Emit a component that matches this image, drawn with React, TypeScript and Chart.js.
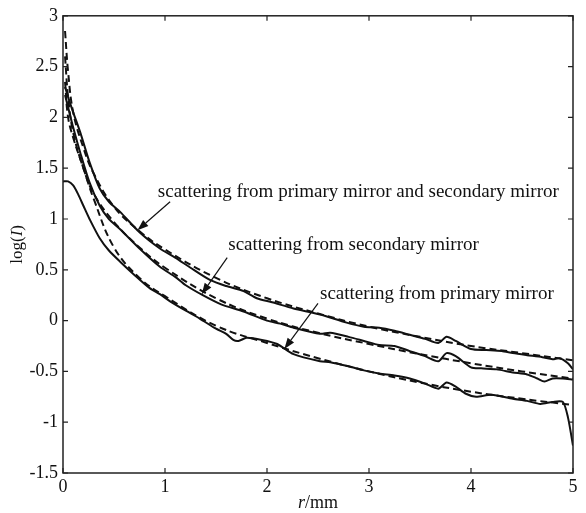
import React, { useEffect, useRef } from "react";
import { Chart, registerables } from "chart.js";

Chart.register(...registerables);

// Solid measured curves
const rSolidBoth = [0.02, 0.05, 0.1, 0.17, 0.26, 0.36, 0.45, 0.56, 0.75, 0.95, 1.1, 1.25, 1.44, 1.6, 1.77, 1.9, 2.05, 2.26, 2.52, 2.78, 2.95, 3.1, 3.25, 3.4, 3.55, 3.68, 3.76, 3.85, 4.0, 4.15, 4.3, 4.41, 4.55, 4.7, 4.8, 4.87, 4.95, 5.0];
const vSolidBoth = [2.3, 2.2, 2.05, 1.85, 1.56, 1.3, 1.17, 1.07, 0.87, 0.71, 0.62, 0.52, 0.4, 0.34, 0.29, 0.22, 0.18, 0.12, 0.06, -0.02, -0.06, -0.07, -0.1, -0.14, -0.18, -0.22, -0.16, -0.2, -0.28, -0.29, -0.3, -0.32, -0.34, -0.36, -0.38, -0.37, -0.42, -0.48];

const rSolidSec = [0.02, 0.05, 0.1, 0.17, 0.26, 0.36, 0.45, 0.56, 0.75, 0.95, 1.1, 1.2, 1.37, 1.55, 1.77, 2.0, 2.13, 2.26, 2.52, 2.62, 2.8, 2.95, 3.1, 3.25, 3.4, 3.55, 3.68, 3.76, 3.85, 4.0, 4.1, 4.25, 4.41, 4.55, 4.65, 4.72, 4.8, 4.9, 5.0];
const vSolidSec = [2.22, 2.1, 1.9, 1.65, 1.36, 1.13, 1.0, 0.9, 0.71, 0.53, 0.43, 0.35, 0.25, 0.16, 0.09, 0.0, -0.03, -0.07, -0.13, -0.12, -0.16, -0.2, -0.24, -0.25, -0.3, -0.35, -0.4, -0.32, -0.35, -0.46, -0.47, -0.48, -0.51, -0.53, -0.57, -0.6, -0.57, -0.57, -0.58];

const rSolidPri = [0.0, 0.05, 0.1, 0.15, 0.2, 0.26, 0.36, 0.45, 0.56, 0.7, 0.85, 0.95, 1.05, 1.2, 1.34, 1.5, 1.6, 1.67, 1.72, 1.8, 1.95, 2.1, 2.26, 2.52, 2.62, 2.8, 2.95, 3.1, 3.25, 3.4, 3.55, 3.68, 3.76, 3.85, 3.95, 4.05, 4.2, 4.41, 4.55, 4.68, 4.8, 4.9, 4.95, 5.0];
const vSolidPri = [1.37, 1.37, 1.33, 1.24, 1.13, 1.0, 0.81, 0.69, 0.58, 0.45, 0.32, 0.26, 0.19, 0.1, 0.02, -0.08, -0.13, -0.19, -0.2, -0.17, -0.19, -0.23, -0.33, -0.4, -0.41, -0.45, -0.49, -0.52, -0.54, -0.57, -0.62, -0.67, -0.61, -0.65, -0.72, -0.75, -0.73, -0.77, -0.79, -0.82, -0.8, -0.8, -0.95, -1.23];

// Dashed fitted curves
const rFit = [0.02, 0.05, 0.1, 0.2, 0.3, 0.5, 0.75, 1.0, 1.5, 2.0, 2.5, 3.0, 3.5, 4.0, 4.5, 5.0];
const vFitBoth = [2.85, 2.45, 2.05, 1.7, 1.45, 1.12, 0.88, 0.7, 0.42, 0.22, 0.07, -0.06, -0.16, -0.25, -0.32, -0.39];
const vFitSec = [2.6, 2.2, 1.85, 1.5, 1.25, 0.97, 0.72, 0.52, 0.22, 0.02, -0.12, -0.23, -0.33, -0.42, -0.5, -0.57];
const vFitPri = [2.35, 2.0, 1.8, 1.5, 1.2, 0.72, 0.42, 0.24, -0.05, -0.22, -0.37, -0.5, -0.61, -0.7, -0.77, -0.83];

const xTicks = [0, 1, 2, 3, 4, 5];
const yTicks = [-1.5, -1, -0.5, 0, 0.5, 1, 1.5, 2, 2.5, 3];

const annLabels = [
  "scattering from primary mirror and secondary mirror",
  "scattering from secondary mirror",
  "scattering from primary mirror",
];
// label anchor (left, middle) in data units
const annLabelR = [0.93, 1.62, 2.52];
const annLabelV = [1.27, 0.74, 0.26];
// arrows: start -> tip in data units
const arrowFromR = [1.05, 1.61, 2.5];
const arrowFromV = [1.17, 0.62, 0.17];
const arrowToR = [0.73, 1.36, 2.17];
const arrowToV = [0.89, 0.26, -0.28];

const FONT = "'Liberation Serif', 'Times New Roman', serif";

function pts(r: number[], v: number[]) {
  return r.map((x, i) => ({ x, y: v[i] }));
}

const framePlugin = {
  id: "frame",
  afterDraw(chart: any) {
    const { ctx, chartArea: a, scales } = chart;
    const xs = scales.x;
    const ys = scales.y;
    ctx.save();
    ctx.strokeStyle = "#222";
    ctx.lineWidth = 1.5;
    ctx.strokeRect(a.left, a.top, a.right - a.left, a.bottom - a.top);
    ctx.lineWidth = 1.2;
    const tl = 5;
    xTicks.forEach((t) => {
      const px = xs.getPixelForValue(t);
      ctx.beginPath();
      ctx.moveTo(px, a.bottom);
      ctx.lineTo(px, a.bottom - tl);
      ctx.moveTo(px, a.top);
      ctx.lineTo(px, a.top + tl);
      ctx.stroke();
    });
    yTicks.forEach((t) => {
      const py = ys.getPixelForValue(t);
      ctx.beginPath();
      ctx.moveTo(a.left, py);
      ctx.lineTo(a.left + tl, py);
      ctx.moveTo(a.right, py);
      ctx.lineTo(a.right - tl, py);
      ctx.stroke();
    });

    // annotations
    ctx.fillStyle = "#111";
    ctx.strokeStyle = "#111";
    ctx.font = `19px ${FONT}`;
    ctx.textBaseline = "middle";
    ctx.textAlign = "left";
    annLabels.forEach((s, i) => {
      ctx.fillText(s, xs.getPixelForValue(annLabelR[i]), ys.getPixelForValue(annLabelV[i]));
    });
    ctx.lineWidth = 1.2;
    arrowFromR.forEach((_, i) => {
      const x0 = xs.getPixelForValue(arrowFromR[i]);
      const y0 = ys.getPixelForValue(arrowFromV[i]);
      const x1 = xs.getPixelForValue(arrowToR[i]);
      const y1 = ys.getPixelForValue(arrowToV[i]);
      const ang = Math.atan2(y1 - y0, x1 - x0);
      const hl = 11, hw = 4;
      const bx = x1 - hl * Math.cos(ang);
      const by = y1 - hl * Math.sin(ang);
      ctx.beginPath();
      ctx.moveTo(x0, y0);
      ctx.lineTo(bx, by);
      ctx.stroke();
      ctx.beginPath();
      ctx.moveTo(x1, y1);
      ctx.lineTo(bx + hw * Math.sin(ang), by - hw * Math.cos(ang));
      ctx.lineTo(bx - hw * Math.sin(ang), by + hw * Math.cos(ang));
      ctx.closePath();
      ctx.fill();
    });

    // axis titles
    ctx.textBaseline = "middle";
    const xt1 = "r";
    const xt2 = "/mm";
    ctx.font = `italic 18px ${FONT}`;
    const w1 = ctx.measureText(xt1).width;
    ctx.font = `18px ${FONT}`;
    const w2 = ctx.measureText(xt2).width;
    const cx = (a.left + a.right) / 2;
    const sx = cx - (w1 + w2) / 2;
    ctx.textAlign = "left";
    ctx.font = `italic 18px ${FONT}`;
    ctx.fillText(xt1, sx, 503);
    ctx.font = `18px ${FONT}`;
    ctx.fillText(xt2, sx + w1, 503);

    ctx.translate(18, (a.top + a.bottom) / 2);
    ctx.rotate(-Math.PI / 2);
    const p1 = "log(", p2 = "I", p3 = ")";
    ctx.font = `17px ${FONT}`;
    const q1 = ctx.measureText(p1).width;
    const q3 = ctx.measureText(p3).width;
    ctx.font = `italic 17px ${FONT}`;
    const q2 = ctx.measureText(p2).width;
    const ox = -(q1 + q2 + q3) / 2;
    ctx.font = `17px ${FONT}`;
    ctx.fillText(p1, ox, 0);
    ctx.font = `italic 17px ${FONT}`;
    ctx.fillText(p2, ox + q1, 0);
    ctx.font = `17px ${FONT}`;
    ctx.fillText(p3, ox + q1 + q2, 0);
    ctx.restore();
  },
};

export default function App() {
  const ref = useRef<HTMLCanvasElement | null>(null);
  useEffect(() => {
    document.body.style.margin = "0";
    const solid = (r: number[], v: number[]) => ({
      data: pts(r, v),
      showLine: true,
      borderColor: "#111",
      borderWidth: 2,
      pointRadius: 0,
      tension: 0.25,
      fill: false,
    });
    const dashed = (r: number[], v: number[]) => ({
      data: pts(r, v),
      showLine: true,
      borderColor: "#111",
      borderWidth: 2,
      borderDash: [7, 4],
      pointRadius: 0,
      tension: 0.4,
      fill: false,
    });
    const chart = new Chart(ref.current as HTMLCanvasElement, {
      type: "scatter",
      data: {
        datasets: [
          solid(rSolidBoth, vSolidBoth),
          solid(rSolidSec, vSolidSec),
          solid(rSolidPri, vSolidPri),
          dashed(rFit, vFitBoth),
          dashed(rFit, vFitSec),
          dashed(rFit, vFitPri),
        ] as any,
      },
      options: {
        animation: false,
        responsive: false,
        maintainAspectRatio: false,
        layout: { padding: { top: 13, right: 13, left: 0, bottom: 0 } },
        plugins: { legend: { display: false }, tooltip: { enabled: false } },
        scales: {
          x: {
            type: "linear",
            min: 0,
            max: 5,
            afterFit: (s: any) => { s.height = 40; },
            afterBuildTicks: (s: any) => { s.ticks = xTicks.map((v) => ({ value: v })); },
            grid: { display: false, drawTicks: false },
            border: { display: false },
            ticks: {
              color: "#111",
              font: { family: FONT, size: 18 },
              padding: 3,
              callback: (v: any) => String(v),
            },
          },
          y: {
            type: "linear",
            min: -1.5,
            max: 3,
            afterFit: (s: any) => { s.width = 63; },
            afterBuildTicks: (s: any) => { s.ticks = yTicks.map((v) => ({ value: v })); },
            grid: { display: false, drawTicks: false },
            border: { display: false },
            ticks: {
              color: "#111",
              font: { family: FONT, size: 18 },
              padding: 5,
              callback: (v: any) => String(v),
            },
          },
        },
      },
      plugins: [framePlugin],
    });
    return () => chart.destroy();
  }, []);
  return (
    <div style={{ width: 586, height: 513, background: "#fff" }}>
      <canvas ref={ref} width={586} height={513} />
    </div>
  );
}
